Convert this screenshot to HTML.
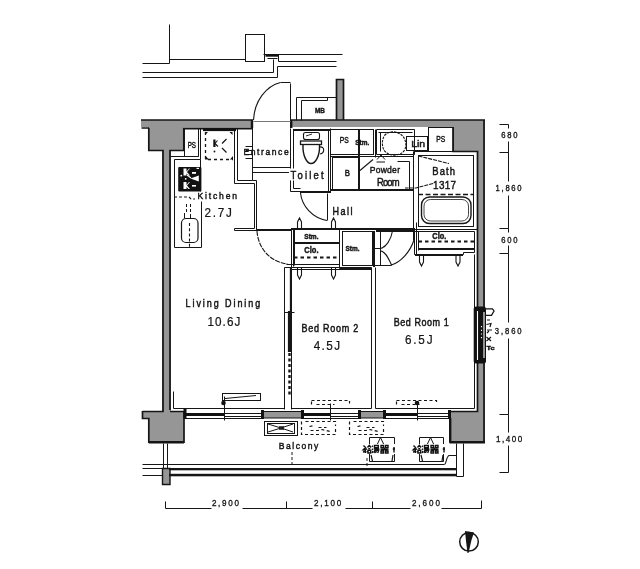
<!DOCTYPE html>
<html><head><meta charset="utf-8">
<style>
html,body{margin:0;padding:0;background:#fff;width:640px;height:569px;overflow:hidden}
svg{display:block;will-change:transform}
text{font-family:"Liberation Sans",sans-serif;fill:#141414;stroke:#141414;stroke-width:0.45}
text.n{stroke-width:0.22}
text.d{stroke-width:0.35}
.mo text{font-family:"Liberation Mono",monospace}
</style></head><body>
<svg width="640" height="569" viewBox="0 0 640 569">
<!-- grey wall fills -->
<g fill="#969696" stroke="none">
<rect x="141" y="120" width="112" height="7"/>
<rect x="148" y="126" width="36" height="25"/>
<rect x="162" y="150" width="9" height="262"/>
<rect x="290" y="120" width="195" height="7"/>
<rect x="336" y="79" width="8" height="42"/>
<rect x="453" y="126" width="32" height="26"/>
<rect x="477" y="150" width="8" height="293"/>
<rect x="449" y="411" width="36" height="32"/>
<path d="M142,411 H184 V443 H148 V418 H142 Z"/>
<rect x="262" y="411" width="40" height="7"/>
<rect x="359" y="411" width="25" height="7"/>
<rect x="162" y="468" width="8" height="17"/>
</g>
<!-- wall outlines -->
<g fill="none" stroke="#151515" stroke-width="1.7">
<path d="M141,120 H253 M290,120 H485 M484,119.5 V442.5"/>
<path d="M148.8,128 V150.5 H163 V411.5 H142.5 M170,410 V150.5 H183.8 V128 M141.5,128 H149"/>
<path d="M183.8,128.5 H253" stroke-width="2"/>
<path d="M453,127 V151.5 H477.5 V411.5 H449.5"/>
<path d="M336.5,120 V79.5 H343.5 V120"/>
<path d="M252,120 V128 M291.2,120 V128" stroke-width="2.4"/>
<path d="M170,411.5 H184 V442.2 H148.8 V418.5 H142.5 V411" />
<path d="M148.8,442.2 H184" stroke-width="2.4"/>
<path d="M449.5,442.2 H485" stroke-width="2.4"/>
<path d="M450.2,418 V442.5" stroke-width="2.4"/>
<path d="M262,411.5 H302 M359,411.5 H384 M262,418 H302 M359,418 H384" stroke-width="1.2"/>
<path d="M162.5,468.5 H170 V484.5 H162.5 Z" stroke-width="1.4"/>
</g>

<g fill="none" stroke="#161616" stroke-width="1">
<!-- top exterior -->
<path d="M142.5,63.5 H169.5 V24.5 M169.5,59.5 H245.5"/>
<rect x="245.5" y="34.5" width="19" height="27"/>
<path d="M263.5,54.5 H342.5"/>
<path d="M267.5,58.5 H277.5 M278.5,54.5 V61.5 H336.5"/>
<path d="M142.5,72.5 H273.5 V59.5"/>
<path d="M142.5,77.5 H277.5 V66.5 H336.5"/>
<!-- door threshold + MB -->
<path d="M253.5,121.5 H290.5" stroke="#777"/>
<path d="M290.5,83.5 V120.5 M280.5,82.5 H290.5"/>
<path d="M296.5,120.5 V97.5 H336.5 M301.5,120.5 V100.5 H327.5 V97.5"/>
<!-- PS (kitchen) -->
<path d="M184.5,128.5 V156.5 H198.5 V128.5 M170.5,156.5 H198.5"/>
<path d="M200.5,128.5 V159.5 H174.5 V247.5 H201.5 M200.5,159.5 V191.5 M201.5,201.5 V247.5"/>
<path d="M173.5,391.5 V408.5"/>
<!-- entrance partition -->
<path d="M234.5,128.5 V183.5 H254.5 V228.5 H234.5 V230.5 H257.5"/>
<path d="M237.5,128.5 V180.5 H252.5 V128.5 M252.5,180.5 H256.5 V230.5"/>
<path d="M252.5,167.5 H290.5 M252.5,172.5 H290.5"/>
<path d="M245.5,146.5 H252.5 M245.5,150.5 H252.5 M245.5,154.5 H252.5 M245.5,158.5 H252.5"/>
<!-- LD/hall -->
<path d="M256,230 H291" stroke-width="2"/>
<path d="M291.5,228.5 V267.5 M293.5,229.5 V266.5"/>
<!-- toilet -->
<path d="M290.5,128.5 V191.5 H300.5 M293.5,130.5 V188.5 H300.5 M328.5,130.5 V191.5 M330.5,128.5 V191.5"/><path d="M293,130 H330" stroke-width="2"/>
<path d="M300,192 H331" stroke-width="2"/>
<path d="M327.5,193.5 V220.5"/>
<!-- PS2 / B / Stm / vanity -->
<rect x="330.5" y="129.5" width="28" height="25"/>
<path d="M330.5,156.5 H413.5"/>
<rect x="332.5" y="157.5" width="26" height="33"/>
<path d="M359,129 V190" stroke-width="2"/>
<rect x="359.5" y="129.5" width="14" height="25"/>
<path d="M375.5,129.5 V157.5"/>
<path d="M376.5,129.5 H414.5 V154.5 H376.5 Z"/>
<path d="M378.5,132.5 H412.5 M380.5,132.5 V151.5"/>
<rect x="406.5" y="136.5" width="21" height="14"/>
<path d="M359.5,157.5 V190.5 M409.5,161.5 V190.5 M397.5,161.5 H409.5"/>
<path d="M330,190 H414" stroke-width="2"/>
<!-- right PS -->
<rect x="428.5" y="127.5" width="25" height="24"/>
<!-- bath -->
<path d="M413.5,151.5 H477.5 M413.5,151.5 V229.5 H477.5"/>
<rect x="418.5" y="155.5" width="55" height="71"/>
<!-- storage row -->
<path d="M291,229 H414" stroke-width="2"/>
<path d="M294.5,229.5 V265.5"/>
<path d="M294,243 H339" stroke-width="2"/>
<path d="M339.5,229.5 V268.5 H371.5"/>
<path d="M286.5,264.5 H339.5"/>
<path d="M284.5,267.5 H371.5 M290.5,269.5 H371.5"/>
<rect x="342.5" y="231.5" width="30" height="34"/>
<!-- BR1 door frame -->
<path d="M380.5,228.5 V265.5 M373.5,248.5 H380.5 M373.5,265.5 H391.5"/>
<path d="M374,231 V267" stroke-width="2"/>
<path d="M376,231 H414" stroke-width="2"/>
<path d="M414,228 V240" stroke-width="2"/>
<path d="M416.5,222.5 V254.5"/>
<!-- BR1 closet -->
<path d="M414.5,231.5 V254.5 H463.5 V252.5 H474.5 V231.5 Z M418.5,231.5 V250.5 M418.5,249.5 H474.5"/><path d="M415,255 H463 M418,249 H474" stroke-width="2"/>
<path d="M474.5,254.5 V408.5 M371.5,267.5 V408.5 M375.5,267.5 V408.5"/>
<!-- BR2 walls -->
<path d="M284.5,267.5 V409.5 M291.5,267.5 V409.5"/>
<path d="M289.5,311 V352" stroke-width="3.2" class="ns"/><path d="M290.5,267.5 V311.5" stroke-width="1.3"/>
<path d="M284.5,312.5 H294.5"/>
<!-- interior bottom lines -->
<path d="M173.5,408.5 H284.5 M291.5,408.5 H371.5 M375.5,408.5 H474.5"/>
<!-- windows -->
<path d="M184.5,418.5 H262.5 M302.5,418.5 H359.5 M384.5,418.5 H449.5"/>
<path d="M224.5,413.5 H262.5 M224.5,416.5 H262.5 M330.5,413.5 H359.5 M330.5,416.5 H359.5 M417.5,413.5 H449.5 M417.5,416.5 H449.5"/>
<path d="M224.5,396.5 V420.5 M330.5,403.5 V420.5 M417.5,403.5 V420.5"/>
<rect x="222.5" y="393.5" width="38" height="7"/>
<!-- wall unit -->
<!-- balcony -->
<path d="M163.5,443.5 V468.5 M167.5,443.5 V468.5"/>
<path d="M142.5,464.5 H444.5"/>
<path d="M142.5,468.5 H162.5 M142.5,475.5 H162.5"/>
<path d="M456.5,443.5 V476.5 H463.5 V443.5"/>
<rect x="264.5" y="421.5" width="33" height="14"/>
<rect x="267.5" y="423.5" width="27" height="10"/>
<path d="M369.5,461.5 V437.5 H394.5 V461.5 Z"/>
<path d="M419.5,461.5 V437.5 H443.5 V461.5 Z"/>
<!-- dims right -->
<path d="M499.5,124.5 H508.5 V128.5 M508.5,141.5 V181.5 M508.5,152.5 H499.5 M508.5,195.5 V228.5 H499.5 M508.5,228.5 V232.5 M508.5,245.5 V253.5 H499.5 M508.5,253.5 V322.5 M508.5,338.5 V414.5 H499.5 M508.5,414.5 V432.5 M508.5,445.5 V472.5 H499.5"/>
<!-- dims bottom -->
<path d="M165.5,501.5 V508.5 H211.5 M242.5,508.5 H312.5 M345.5,508.5 H410.5 M441.5,508.5 H481.5 V500.5 M286.5,501.5 V508.5 M372.5,501.5 V508.5"/>
</g>

<!-- thick sashes & misc fills -->
<g fill="#111" stroke="none">
<rect x="184" y="413" width="40" height="3"/>
<rect x="302" y="413" width="28" height="3"/>
<rect x="384" y="413" width="33" height="3"/>
<rect x="183.5" y="409" width="3" height="10"/>
<rect x="261" y="410" width="3" height="9"/>
<rect x="301" y="410" width="3" height="9"/>
<rect x="358" y="410" width="3" height="9"/>
<rect x="383" y="410" width="3" height="9"/>
<rect x="448" y="410" width="3" height="9"/>
<circle cx="223.5" cy="403" r="2.3"/>
<circle cx="417" cy="403" r="2.3"/>
<rect x="265.5" y="54.5" width="13" height="2.2"/>
<rect x="203" y="128.5" width="33" height="2.6"/>
<rect x="213.3" y="139.5" width="2.2" height="7.5"/>
<circle cx="214.5" cy="151.5" r="0.9"/>
<path d="M205,155.5 L209,159.5 H205 Z M205,132 V135 L208,132 Z M232.5,132 V135 L229.5,132 Z M233,159.5 V156 L230,159.5 Z"/>
<!-- stove -->
<rect x="178.2" y="167" width="23.2" height="24.5" rx="1"/>
<!-- wall unit -->
<rect x="473.7" y="306.5" width="12.3" height="57" rx="2.5"/>
</g>
<g fill="#fff" stroke="none">
<path d="M183.5,168.5 H186.5 V171.5 L189,168.5 H190 L187,172 L190,175.5 H188.5 L186.5,173.5 V175.5 H183.5 Z"/>
<path d="M183.5,182 H186.5 V185 L189,182 H190 L187,185.5 L190,189 H188.5 L186.5,187 V189 H183.5 Z"/>
<path d="M190.5,178.5 L198.8,175.5 V181.5 Z"/>
<rect x="192" y="172" width="4" height="1.8"/>
<rect x="192" y="185" width="4" height="1.6"/>
<rect x="196.5" y="167.8" width="2.5" height="1.2"/>
<circle cx="181.3" cy="175.7" r="0.9"/>
<circle cx="185.7" cy="178.8" r="0.9"/>
</g>
<g fill="none" stroke="#fff" stroke-width="1.1">
<path d="M187,175 L191,178"/>
<path d="M477.5,311 V360 M484,312 V358"/><path d="M481.5,326 V340" stroke-dasharray="1.2,2.5"/>
</g>

<!-- curves, dashes, etc (no snap) -->
<g fill="none" stroke="#161616" stroke-width="1.1">
<!-- entrance door arc -->
<path d="M253.5,120 C254.5,101 266,86 280.5,82.5"/>
<!-- fridge dashed -->
<path d="M205.5,132 V159.5 H233" stroke-dasharray="3,3" stroke-width="1.3"/>
<path d="M222,143.5 L226.5,139 M222,148 L226.5,152.5" stroke-width="1.2"/><path d="M215,143.5 L218,146.5 M215,143.5 L217.5,140.5" stroke-width="1.1"/>

<!-- kitchen dashed -->
<path d="M174,197 H189 L191,199 H195" stroke-dasharray="3,2"/>
<rect x="181.5" y="218.5" width="16.5" height="24" rx="4.5" stroke-width="1.2"/>
<path d="M189.5,223 V247" stroke-dasharray="3,2.2"/><path d="M186.5,204 V212 M190.5,204 V212" stroke-dasharray="3,2" stroke-width="1"/><path d="M184.5,218 V213 M190.5,218 V214" stroke-width="1"/>
<!-- LD door arc -->
<path d="M257,231 C258,248 270,262 287.5,264" stroke-dasharray="5,1"/>
<!-- toilet door arc -->
<path d="M300.5,193 C302,206 312,218 327,220.5"/>
<!-- toilet fixture -->
<rect x="303.5" y="132.5" width="16" height="7" rx="2"/>
<path d="M306,136 L312,134" stroke-width="0.9"/>
<rect x="300.5" y="141" width="21" height="3.5" stroke-width="1.3"/>
<path d="M303,145 C302.5,156 307,163.5 311,163.5 C315.5,163.5 320,156 319.5,145" stroke-width="1.4"/>
<path d="M319.5,147 C325,146 325,153 320,154"/>
<!-- vanity basin -->
<path d="M386,134 C381,138 381,150 387,153 C391,156 399,156 403,152 C408,147 406,137 400,134 C395,131 390,131 386,134 Z" stroke-dasharray="2.5,1"/>
<path d="M360,170.5 L373,159.5" />
<path d="M376.5,162 H385 M377,159.5 L381,155 L385,159.5" stroke-width="1"/>
<!-- bath -->
<path d="M418,194.5 H473" stroke-dasharray="5,2.5" stroke-width="1.6"/>
<rect x="421.5" y="197" width="49.5" height="26.5" rx="8" stroke-width="1.4"/>
<rect x="424" y="199.5" width="44.5" height="21.5" rx="6.5" stroke-width="0.8"/>
<path d="M418.5,156 L449,163.5" stroke-dasharray="4,1"/>
<path d="M433,183.5 L416,188 H405" stroke-dasharray="4,1"/>
<!-- closet dashes -->
<path d="M294,257.5 H339" stroke-width="2.2" stroke-dasharray="3.5,3"/>
<path d="M418.5,241.5 H474" stroke-width="2.2" stroke-dasharray="3.5,3"/>
<!-- hangers -->
<path d="M297.5,228 V222 L299.5,218 L301.5,222 V228 M331.5,228 V222 L333.5,218 L335.5,222 V228"/>
<path d="M297.5,268 V275 L299.5,279 L301.5,275 V268 M331.5,268 V275 L333.5,279 L335.5,275 V268"/>
<path d="M419.5,255 V262 L421.5,266 L423.5,262 V255 M456,255 V262 L458,266 L460,262 V255"/>
<!-- BR1 doors -->
<path d="M380.5,248.5 C386,247 391,240 392.5,231"/>
<path d="M380.5,251 C385,251 388,257 391.5,265 C401,262 410,252 414,240"/>
<!-- BR2 dashed wall part -->
<path d="M289.5,353 V396" stroke-width="2.4" stroke-dasharray="3,2.5"/>
<!-- window details -->
<path d="M225,398.5 L256,395.5" stroke-width="1"/>
<path d="M311.5,400.5 H349.5 V403.5 M311.5,404.5 V400.5 M316.5,404.5 H334.5" stroke-dasharray="3,2.5" stroke-width="1.2"/>
<path d="M396.5,400.5 H436.5 V403.5 M396.5,404.5 V400.5 M401.5,404.5 H419.5" stroke-dasharray="3,2.5" stroke-width="1.2"/>
<!-- AC -->
<path d="M268,424 L281,428 L293,424 M268,432 L281,428 L293,432" stroke-width="1"/>
<path d="M279,427 H284 M279,429 H284" stroke-width="1.4"/>
<path d="M301.5,421.5 V434.5 H335.5 V428 M305.5,421.5 H335.5 V426 M309.5,426.5 L314,425.5 M318.5,427.5 H326.5 M310.5,430.5 H318 L322,429.5 L330,431.5" stroke-dasharray="3,2.5" stroke-width="1.2"/>
<path d="M349.5,421.5 V434.5 H383.5 V428 M353.5,421.5 H383.5 V426 M357.5,426.5 L362,425.5 M366.5,427.5 H374.5 M358.5,430.5 H366 L370,429.5 L378,431.5" stroke-dasharray="3,2.5" stroke-width="1.2"/>
<path d="M292,452 V464 M367,458 V468" stroke-dasharray="3,2" stroke-width="1"/>
<path d="M444.5,464.5 C446.5,464 446,457 449,455.5 H456.5"/>
<!-- heater symbols -->
<path d="M376,447 L380.5,437.5 L385,447 M426,447 L430.5,437.5 L435,447" stroke-width="1"/>
<path d="M371,455 L372.5,461 M393,455 L392,461 M421,455 L422.5,461 M443,455 L442,461" stroke-width="1.2"/>
<path d="M486,308.8 H492.5 L494,311 L491.5,315.3 H486" stroke-width="1.3"/>
<path d="M487,320 H490 M486.5,324.5 L491,323.5 L490,327 M487,330 H492 M487,333 L489,331 M486.5,337 L491,341 M491,337 L486.5,341" stroke-width="1.2"/>
<!-- north arrow -->
<circle cx="469" cy="541.8" r="9.3" stroke-width="1.5"/>
</g>
<g fill="#151515" stroke="none">
<rect x="169" y="468" width="287.5" height="2.3"/>
<rect x="169" y="473.8" width="287.5" height="2.5"/>
<path d="M465,531 L474,532.5 L471.5,540 L468.5,553 L467.5,553 L466,541 Z"/>
</g>
<g fill="#fff" stroke="none">
<path d="M379,448 h2 v5 h-2z M387,450 h2 v3 h-2z M428,448 h2 v5 h-2z M436,450 h2 v3 h-2z"/>
</g>

<defs>
<g id="kj">
<rect x="-1" y="-1" width="34" height="10" fill="#fff"/>
<g fill="none" stroke="#111" stroke-width="1.4">
<path d="M1,0.5 L3,2.5 L1,4.5 L4.5,4 M2.8,4 V8 M0.8,7.5 L1.8,6 M4.5,6 L5,7.5"/>
<path d="M5,2.5 L6.8,0.3 L8.6,2.5 M5.8,3.6 H7.8 M5.5,5.2 H8.2 V8 H5.5 Z"/>
<path d="M9.5,0.8 L10.5,1.8 M9.5,3.8 L10.5,4.8 M9.5,8 L10.5,6"/>
<path d="M12,0.5 H15.8 V2.8 H12 Z M11.3,4 H16.8 M12.3,5.2 L11.5,8 M12.3,5.2 H16.2 L15.2,8 M13.8,6 L13,8"/>
<path d="M18.5,0.5 H21 V2.6 H18.5 Z M23,0.5 H25.5 V2.6 H23 Z M18,4.3 H26 M22,2.6 V4.3 L18.8,5.8 M22,4.3 L25.2,5.8 M18.5,6 H21 V8 H18.5 Z M23,6 H25.5 V8 H23 Z"/>
<path d="M31.5,2 V7.5 M30.3,4 H32.5"/>
</g>
</g>
</defs>
<use href="#kj" x="362.5" y="445"/>
<use href="#kj" x="412.5" y="445"/>
<rect x="289" y="168.5" width="7" height="12" fill="#fff"/>
<!-- labels -->
<g>
<text x="315" y="113" font-size="8" font-weight="bold" textLength="10" lengthAdjust="spacingAndGlyphs">MB</text>
<text x="187.7" y="147.6" font-size="9" textLength="8.3" lengthAdjust="spacingAndGlyphs">PS</text>
<text x="339.7" y="143.3" font-size="9" textLength="9" lengthAdjust="spacingAndGlyphs">PS</text>
<text x="436.3" y="142" font-size="9" textLength="9" lengthAdjust="spacingAndGlyphs">PS</text>
<text x="344.8" y="176.3" font-size="9" textLength="5.2" lengthAdjust="spacingAndGlyphs">B</text>
</g>
<g>
<text transform="translate(185.6,307) scale(0.9,1)" x="0" y="0" font-size="10" textLength="82.89" lengthAdjust="spacing">Living Dining</text>
<text transform="translate(207.4,325.5) scale(0.9,1)" class="n" x="0" y="0" font-size="13" textLength="36.67" lengthAdjust="spacing">10.6J</text>
<text transform="translate(301.4,332.2) scale(0.9,1)" x="0" y="0" font-size="10" textLength="63.11" lengthAdjust="spacing">Bed Room 2</text>
<text transform="translate(313.7,350.3) scale(0.9,1)" class="n" x="0" y="0" font-size="13" textLength="29.22" lengthAdjust="spacing">4.5J</text>
<text transform="translate(393.7,326.2) scale(0.9,1)" x="0" y="0" font-size="10" textLength="61.11" lengthAdjust="spacing">Bed Room 1</text>
<text transform="translate(405,344) scale(0.9,1)" class="n" x="0" y="0" font-size="13" textLength="30.56" lengthAdjust="spacing">6.5J</text>
<text transform="translate(197.5,199.2) scale(0.9,1)" x="0" y="0" font-size="9.5" textLength="43.89" lengthAdjust="spacing">Kitchen</text>
<text transform="translate(204.5,217.3) scale(0.9,1)" class="n" x="0" y="0" font-size="13" textLength="30.33" lengthAdjust="spacing">2.7J</text>
<text transform="translate(243.5,154.6) scale(0.9,1)" x="0" y="0" font-size="9.5" textLength="50.22" lengthAdjust="spacing">Entrance</text>
<text transform="translate(290.6,178.5) scale(0.9,1)" x="0" y="0" font-size="10.5" textLength="36.67" lengthAdjust="spacing">Toilet</text>
<text transform="translate(332.5,214.5) scale(0.9,1)" x="0" y="0" font-size="10" textLength="22.22" lengthAdjust="spacing">Hall</text>
<text transform="translate(369.7,172.8) scale(0.9,1)" x="0" y="0" font-size="9.5" textLength="33.67" lengthAdjust="spacing">Powder</text>
<text transform="translate(377,186.2) scale(0.9,1)" x="0" y="0" font-size="10.5" textLength="25" lengthAdjust="spacing">Room</text>
<text transform="translate(432.2,174.9) scale(0.9,1)" x="0" y="0" font-size="10.5" textLength="25.44" lengthAdjust="spacing">Bath</text>
<text transform="translate(433.1,189) scale(0.9,1)" x="0" y="0" font-size="11" textLength="25.44" lengthAdjust="spacing">1317</text>
<text transform="translate(278.8,449) scale(0.9,1)" x="0" y="0" font-size="9.5" textLength="43.78" lengthAdjust="spacing">Balcony</text>
</g>
<g font-weight="bold">





<text x="355.3" y="144.5" font-size="7.5" textLength="14" lengthAdjust="spacingAndGlyphs">Stm.</text>
<text x="304.3" y="238.8" font-size="8" textLength="14.2" lengthAdjust="spacingAndGlyphs">Stm.</text>
<text x="345.5" y="250.5" font-size="8" textLength="14" lengthAdjust="spacingAndGlyphs">Stm.</text>
<text x="304.3" y="253" font-size="9" textLength="14.2" lengthAdjust="spacingAndGlyphs">Clo.</text>
<text x="432.3" y="238.6" font-size="8.5" textLength="14" lengthAdjust="spacingAndGlyphs">Clo.</text>
</g>
<g font-weight="bold">
<text x="411.2" y="146.8" font-size="9" font-weight="normal" textLength="14" lengthAdjust="spacingAndGlyphs">Lin</text>
<text transform="translate(501.2,138) scale(0.85,1)" class="d" x="0" y="0" font-size="9" font-weight="normal" textLength="19.06" lengthAdjust="spacing">680</text>
<text transform="translate(495.6,190.5) scale(0.85,1)" class="d" x="0" y="0" font-size="9" font-weight="normal" textLength="30.59" lengthAdjust="spacing">1,860</text>
<text transform="translate(501.2,243) scale(0.85,1)" class="d" x="0" y="0" font-size="9" font-weight="normal" textLength="19.06" lengthAdjust="spacing">600</text>
<text transform="translate(494.8,334.4) scale(0.85,1)" class="d" x="0" y="0" font-size="9" font-weight="normal" textLength="31.53" lengthAdjust="spacing">3,860</text>
<text transform="translate(495.9,442) scale(0.85,1)" class="d" x="0" y="0" font-size="9.5" font-weight="normal" textLength="30.94" lengthAdjust="spacing">1,400</text>
<text transform="translate(211.9,506.3) scale(0.85,1)" class="d" x="0" y="0" font-size="9.5" font-weight="normal" textLength="31.88" lengthAdjust="spacing">2,900</text>
<text transform="translate(314.1,506.3) scale(0.85,1)" class="d" x="0" y="0" font-size="9.5" font-weight="normal" textLength="32" lengthAdjust="spacing">2,100</text>
<text transform="translate(411.9,506.3) scale(0.85,1)" class="d" x="0" y="0" font-size="9.5" font-weight="normal" textLength="33.06" lengthAdjust="spacing">2,600</text>
<text x="486.5" y="349.5" font-size="6" textLength="8" lengthAdjust="spacingAndGlyphs">Tc</text>
</g>
</svg>
</body></html>
